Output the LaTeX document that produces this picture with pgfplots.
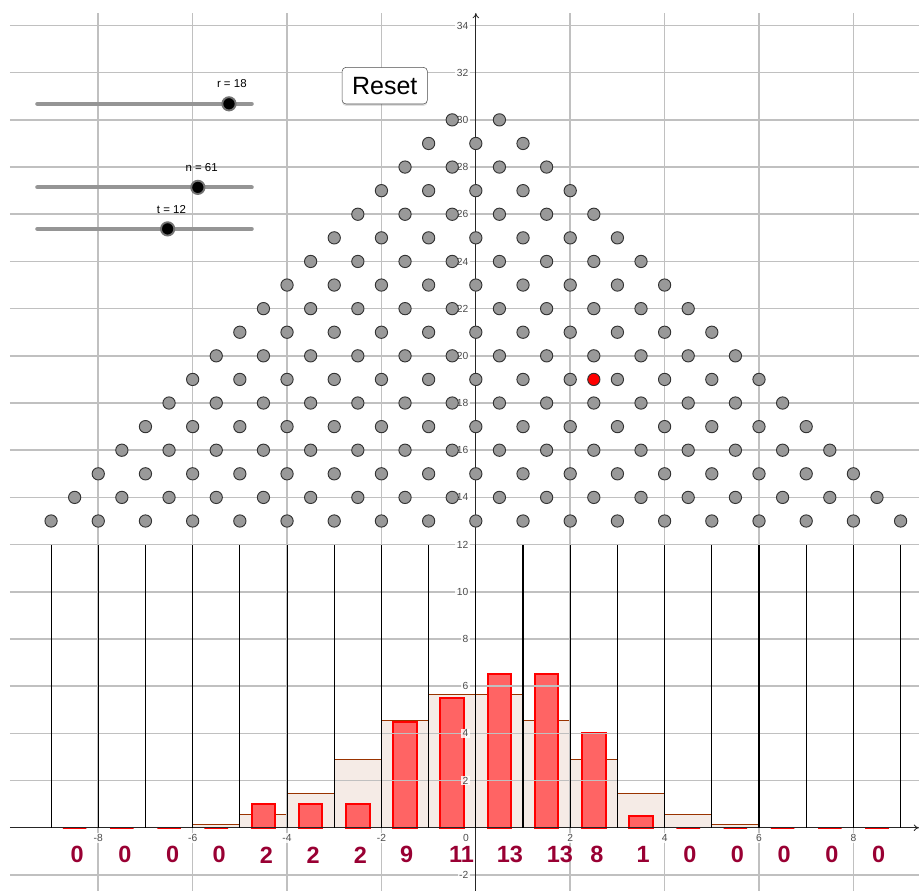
\documentclass[border=0pt]{standalone}
\usepackage{pgfplots}
\pgfplotsset{compat=1.18}
\usepackage{fontspec}
\setmainfont{Liberation Sans}
\usetikzlibrary{arrows.meta,shadows}

\definecolor{gridc}{HTML}{C0C0C0}
\definecolor{pegfill}{HTML}{999999}
\definecolor{pegdraw}{HTML}{333333}
\definecolor{expfill}{HTML}{F5EBE6}
\definecolor{expdraw}{HTML}{993300}
\definecolor{obsfill}{HTML}{FF6464}
\definecolor{cntc}{HTML}{990033}
\definecolor{slidec}{HTML}{959595}

\pgfplotsset{
  layers/mylayers/.define layer set={axis background,axis grid,axis ticks,axis lines,bars,axis tick labels,main,axis descriptions,axis foreground}{},
}

\begin{document}
\begin{tikzpicture}
\begin{axis}[
  set layers=mylayers,
  width=681.75pt, height=658.5pt, scale only axis,
  xmin=-9.87, xmax=9.39, ymin=-2.68, ymax=34.53,
  axis lines=middle,
  axis line style={black!85, line width=0.6pt, -{To[length=4pt,width=5pt]}},
  xtick={-8,-6,-4,-2,2,4,6,8},
  ytick={-2,2,4,6,8,10,12,14,16,18,20,22,24,26,28,30,32,34},
  grid=major,
  major grid style={gridc, line width=1.15pt},
  major tick length=0pt,
  /pgf/number format/assume math mode=true,
  tick label style={font=\fontsize{7.7}{9}\selectfont, text=black!70, fill=white, fill opacity=0.85, text opacity=1, inner sep=1pt},
  xticklabel style={anchor=north, yshift=-4pt},
  yticklabel style={anchor=east, xshift=-4.5pt},
]
% separators
\addplot[ycomb, black, line width=0.8pt] coordinates {
(-9,12) (-8,12) (-7,12) (-6,12) (-5,12) (-4,12) (-3,12) (-2,12) (-1,12) (0,12)
(1,12) (2,12) (3,12) (4,12) (5,12) (6,12) (7,12) (8,12) (9,12)};
% expected (binomial) bars
\addplot[on layer=bars, ybar, bar width=1, bar shift=0pt, fill=expfill, draw=expdraw, line width=0.6pt] coordinates {
(-8.5,0.0003) (-7.5,0.004) (-6.5,0.032) (-5.5,0.158) (-4.5,0.554) (-3.5,1.44)
(-2.5,2.88) (-1.5,4.53) (-0.5,5.66) (0.5,5.66) (1.5,4.53) (2.5,2.88)
(3.5,1.44) (4.5,0.554) (5.5,0.158) (6.5,0.032) (7.5,0.004) (8.5,0.0003)};
% observed bars
\addplot[on layer=bars, ybar, bar width=0.5, bar shift=0pt, fill=obsfill, draw=red, line width=1.5pt] coordinates {
(-8.5,0) (-7.5,0) (-6.5,0) (-5.5,0) (-4.5,1) (-3.5,1)
(-2.5,1) (-1.5,4.5) (-0.5,5.5) (0.5,6.5) (1.5,6.5) (2.5,4)
(3.5,0.5) (4.5,0) (5.5,0) (6.5,0) (7.5,0) (8.5,0)};
% pegs
\addplot[only marks, mark=*, mark size=4.6pt, mark options={fill=pegfill, draw=pegdraw, line width=0.7pt}] coordinates {
(-9,13) (-8,13) (-7,13) (-6,13) (-5,13) (-4,13) (-3,13) (-2,13) (-1,13) (0,13) (1,13) (2,13) (3,13) (4,13) (5,13) (6,13) (7,13) (8,13) (9,13)
(-8.5,14) (-7.5,14) (-6.5,14) (-5.5,14) (-4.5,14) (-3.5,14) (-2.5,14) (-1.5,14) (-0.5,14) (0.5,14) (1.5,14) (2.5,14) (3.5,14) (4.5,14) (5.5,14) (6.5,14) (7.5,14) (8.5,14)
(-8,15) (-7,15) (-6,15) (-5,15) (-4,15) (-3,15) (-2,15) (-1,15) (0,15) (1,15) (2,15) (3,15) (4,15) (5,15) (6,15) (7,15) (8,15)
(-7.5,16) (-6.5,16) (-5.5,16) (-4.5,16) (-3.5,16) (-2.5,16) (-1.5,16) (-0.5,16) (0.5,16) (1.5,16) (2.5,16) (3.5,16) (4.5,16) (5.5,16) (6.5,16) (7.5,16)
(-7,17) (-6,17) (-5,17) (-4,17) (-3,17) (-2,17) (-1,17) (0,17) (1,17) (2,17) (3,17) (4,17) (5,17) (6,17) (7,17)
(-6.5,18) (-5.5,18) (-4.5,18) (-3.5,18) (-2.5,18) (-1.5,18) (-0.5,18) (0.5,18) (1.5,18) (2.5,18) (3.5,18) (4.5,18) (5.5,18) (6.5,18)
(-6,19) (-5,19) (-4,19) (-3,19) (-2,19) (-1,19) (0,19) (1,19) (2,19) (3,19) (4,19) (5,19) (6,19)
(-5.5,20) (-4.5,20) (-3.5,20) (-2.5,20) (-1.5,20) (-0.5,20) (0.5,20) (1.5,20) (2.5,20) (3.5,20) (4.5,20) (5.5,20)
(-5,21) (-4,21) (-3,21) (-2,21) (-1,21) (0,21) (1,21) (2,21) (3,21) (4,21) (5,21)
(-4.5,22) (-3.5,22) (-2.5,22) (-1.5,22) (-0.5,22) (0.5,22) (1.5,22) (2.5,22) (3.5,22) (4.5,22)
(-4,23) (-3,23) (-2,23) (-1,23) (0,23) (1,23) (2,23) (3,23) (4,23)
(-3.5,24) (-2.5,24) (-1.5,24) (-0.5,24) (0.5,24) (1.5,24) (2.5,24) (3.5,24)
(-3,25) (-2,25) (-1,25) (0,25) (1,25) (2,25) (3,25)
(-2.5,26) (-1.5,26) (-0.5,26) (0.5,26) (1.5,26) (2.5,26)
(-2,27) (-1,27) (0,27) (1,27) (2,27)
(-1.5,28) (-0.5,28) (0.5,28) (1.5,28)
(-1,29) (0,29) (1,29)
(-0.5,30) (0.5,30)};
% ball
\addplot[only marks, mark=*, mark size=4.6pt, mark options={fill=red, draw=pegdraw, line width=0.7pt}] coordinates {(2.5,19)};
% counts
\addplot[draw=none, nodes near coords, point meta=explicit symbolic,
  every node near coord/.append style={anchor=west, inner sep=0pt, text=cntc, font=\fontsize{17.6}{20}\selectfont\bfseries}]
  table[meta=label] {
x y label
-8.59 -1.15 0
-7.58 -1.15 0
-6.57 -1.15 0
-5.58 -1.15 0
-4.58 -1.15 2
-3.59 -1.15 2
-2.59 -1.15 2
-1.61 -1.15 9
-0.57 -1.15 11
0.44 -1.15 13
1.50 -1.15 13
2.42 -1.15 8
3.40 -1.15 1
4.39 -1.15 0
5.40 -1.15 0
6.39 -1.15 0
7.40 -1.15 0
8.39 -1.15 0
};
% sliders
\addplot[slidec, line width=3.2pt, line cap=round] coordinates {(-9.29,30.68) (-4.75,30.68)};
\addplot[slidec, line width=3.2pt, line cap=round] coordinates {(-9.29,27.14) (-4.75,27.14)};
\addplot[slidec, line width=3.2pt, line cap=round] coordinates {(-9.29,25.38) (-4.75,25.38)};
\addplot[only marks, mark=*, mark size=5pt, mark options={fill=black, draw=black!55, line width=1.4pt}] coordinates {(-5.23,30.68) (-5.89,27.14) (-6.53,25.38)};
\node[font=\fontsize{8.6}{10}\selectfont] at (axis cs:-5.17,31.53) {r = 18};
\node[font=\fontsize{8.6}{10}\selectfont] at (axis cs:-5.81,28.0) {n = 61};
\node[font=\fontsize{8.6}{10}\selectfont] at (axis cs:-6.45,26.19) {t = 12};
\node[font=\fontsize{7.7}{9}\selectfont, text=black!70] at (axis cs:-0.21,-0.45) {0};
% reset button
\node[draw=black!70, fill=white, rounded corners=3pt, minimum width=64pt, minimum height=27.5pt,
  drop shadow={shadow xshift=0pt, shadow yshift=-1.5pt, opacity=0.25},
  font=\fontsize{18.75}{20}\selectfont] at (axis cs:-1.93,31.45) {Reset};
\end{axis}
\pgfresetboundingbox
\path[use as bounding box] ([xshift=-7.5pt]current axis.south west) rectangle ([yshift=9.75pt]current axis.north east);
\end{tikzpicture}
\end{document}
